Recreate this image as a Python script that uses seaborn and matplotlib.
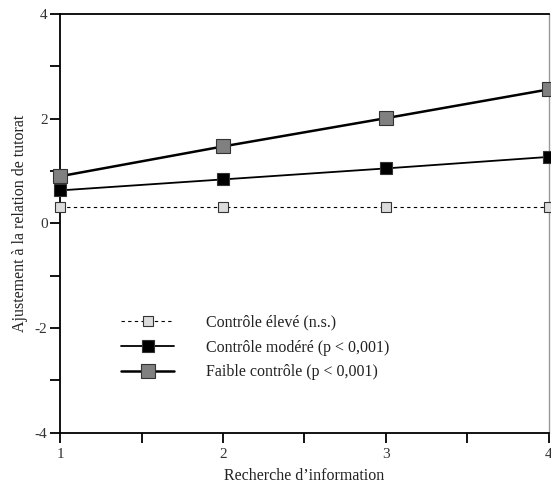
import numpy as np
import pandas as pd
import seaborn as sns
from matplotlib import pyplot as plt
from matplotlib.ticker import MultipleLocator

# Donnees
recherche = [1, 2, 3, 4]
controle_eleve = [0.32, 0.32, 0.32, 0.32]
controle_modere = [0.63, 0.84, 1.05, 1.27]
faible_controle = [0.90, 1.47, 2.01, 2.56]
noms = ["Contrôle élevé (n.s.)",
        "Contrôle modéré (p < 0,001)",
        "Faible contrôle (p < 0,001)"]

sns.set_theme(style="white")
plt.rcParams['font.family'] = ['Liberation Serif', 'DejaVu Serif']
plt.rcParams['font.size'] = 11
plt.rcParams['axes.unicode_minus'] = False

fig = plt.figure(figsize=(5.51, 4.83), dpi=100)
ax = fig.add_axes([0.109, 0.104, 0.887, 0.867])

# styles: (valeurs, couleur marqueur, style ligne, epaisseur, taille marqueur)
styles = [
    (controle_eleve, "#dcdcdc", (0, (3, 3)), 0.8, 7.5),
    (controle_modere, "black", "-", 1.3, 9),
    (faible_controle, "#808080", "-", 1.8, 9.5),
]

for (vals, mcol, ls, lw, ms), nom in zip(styles, noms):
    df = pd.DataFrame({"x": recherche, "y": vals})
    sns.lineplot(data=df, x="x", y="y", ax=ax, color="black", linestyle=ls,
                 linewidth=lw, marker="s", markersize=ms, markerfacecolor=mcol,
                 markeredgecolor="#333333", markeredgewidth=0.8, label=nom,
                 clip_on=False, zorder=5)

ax.set_xlim(1, 4)
ax.set_ylim(-4, 4)
ax.xaxis.set_major_locator(MultipleLocator(1))
ax.xaxis.set_minor_locator(MultipleLocator(0.5))
ax.yaxis.set_major_locator(MultipleLocator(2))
ax.yaxis.set_minor_locator(MultipleLocator(1))
ax.tick_params(which="both", direction="out", length=7, width=1.3,
               color="black", labelsize=11, labelcolor="#333333",
               left=True, bottom=True)
ax.tick_params(axis="x", pad=4)
ax.tick_params(axis="y", pad=2)

for side in ["left", "bottom", "top"]:
    ax.spines[side].set_color("black")
    ax.spines[side].set_linewidth(1.3)
ax.spines["right"].set_color("#999999")
ax.spines["right"].set_linewidth(1.0)

ax.set_xlabel("Recherche d’information", fontsize=11.5, color="#222222", labelpad=5)
ax.set_ylabel("Ajustement à la relation de tutorat", fontsize=11.5,
              color="#222222", labelpad=5)

leg = ax.legend(loc="lower left", bbox_to_anchor=(0.125, 0.125), frameon=False,
                borderpad=0, borderaxespad=0,
                handlelength=3.3, handletextpad=2.0, labelspacing=0.55,
                fontsize=11.5)
for t in leg.get_texts():
    t.set_color("#222222")

fig.savefig("out.png", dpi=100)
